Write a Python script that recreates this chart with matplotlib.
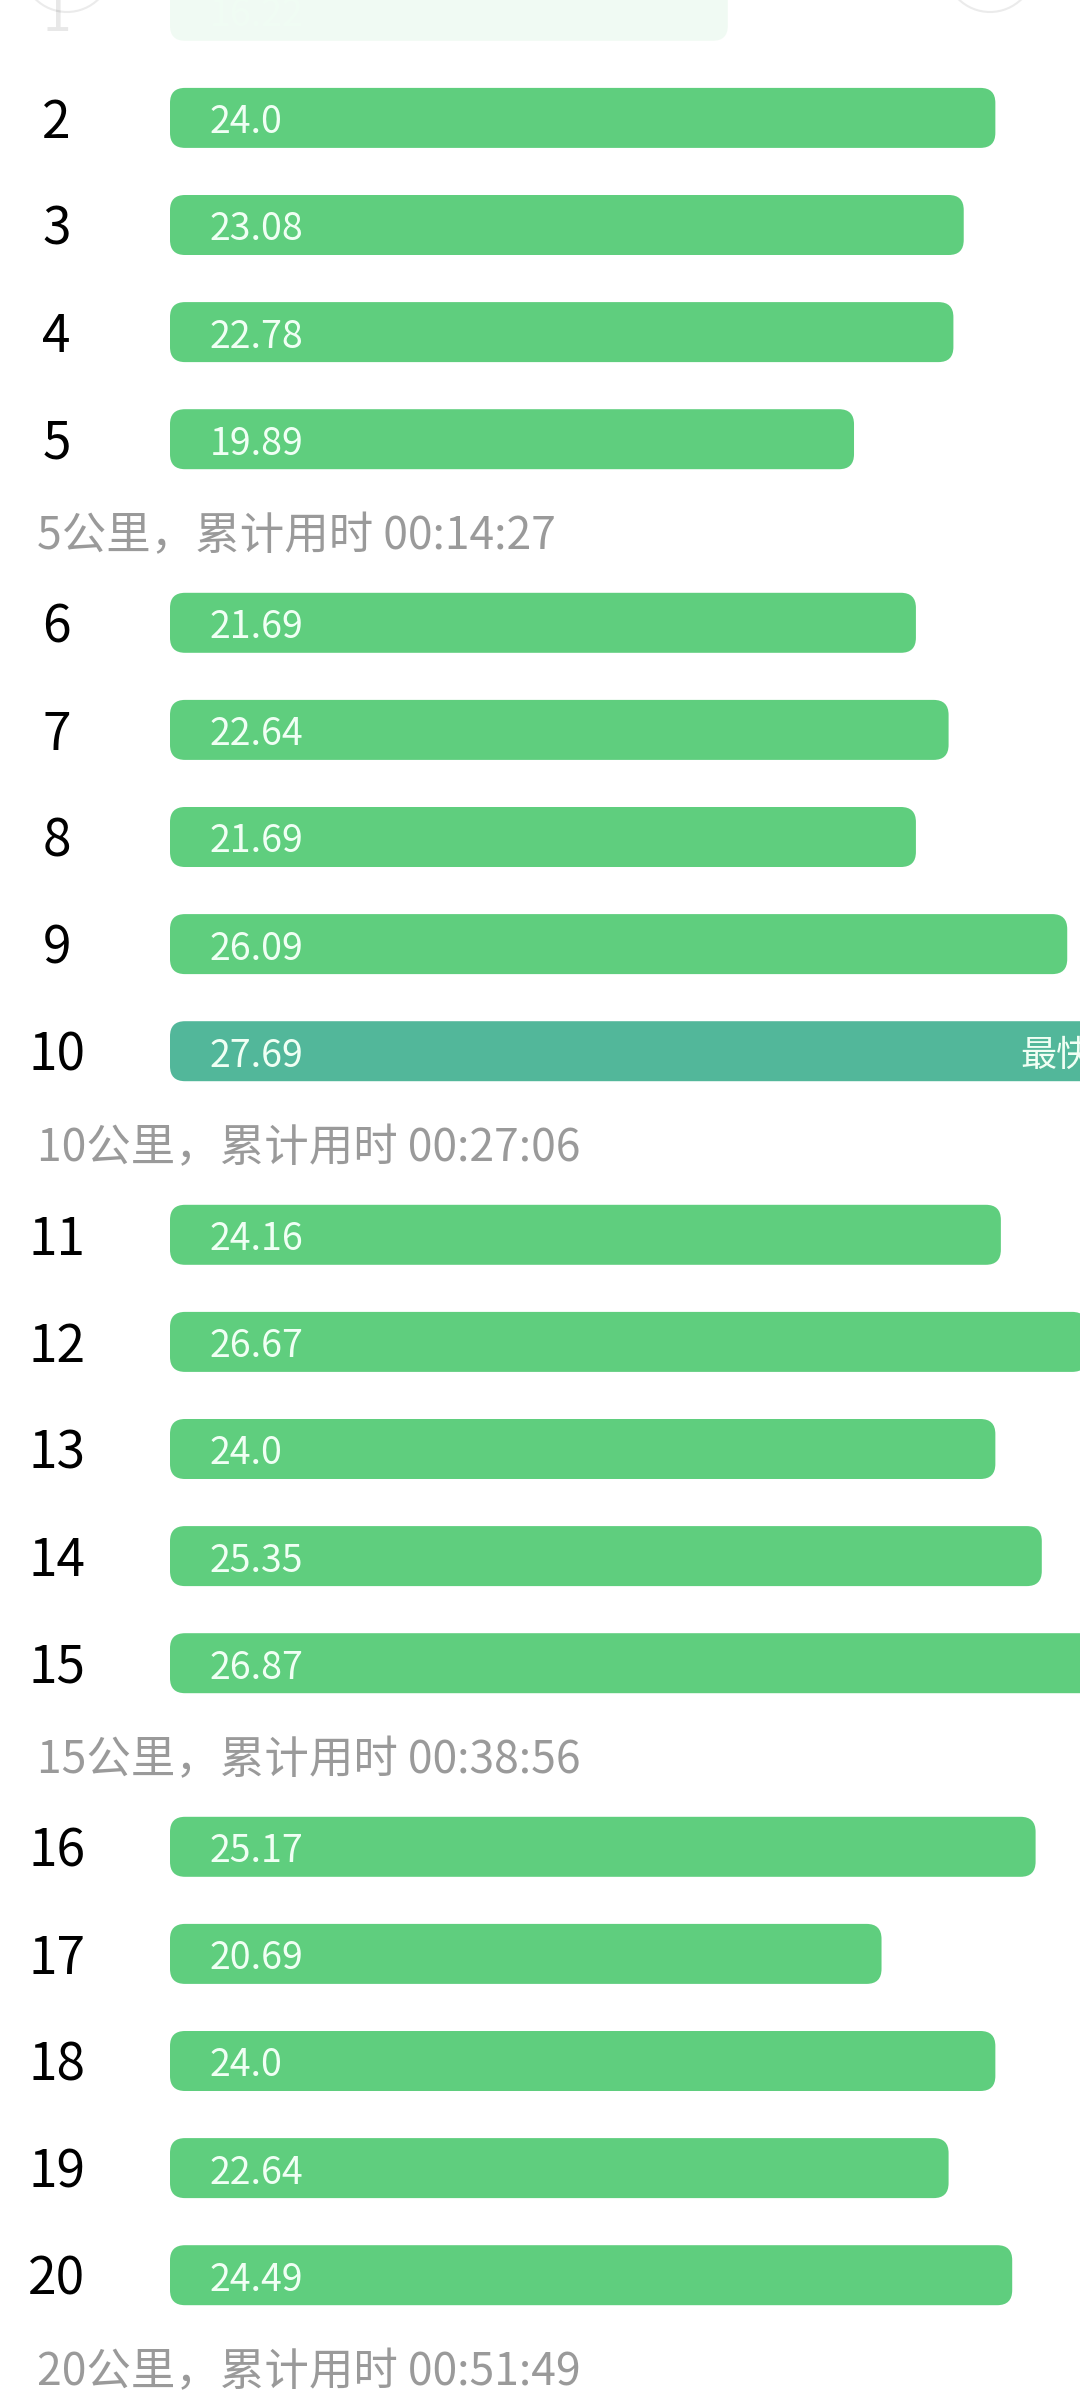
import matplotlib
matplotlib.use("Agg")
import matplotlib.pyplot as plt
from matplotlib.patches import FancyBboxPatch, Circle

plt.rcParams['font.family'] = ['Noto Sans CJK SC', 'DejaVu Sans']

# data
splits = list(range(1, 21))
speeds = [16.22, 24.0, 23.08, 22.78, 19.89, 21.69, 22.64, 21.69, 26.09, 27.69,
          24.16, 26.67, 24.0, 25.35, 26.87, 25.17, 20.69, 24.0, 22.64, 24.49]
fastest_split = 10
summary_km = [5, 10, 15, 20]
summary_times = ["00:14:27", "00:27:06", "00:38:56", "00:51:49"]

GREEN = "#5FCE7E"
TEAL = "#52B79A"
GRAY = "#9A9A9A"
VALUE_TEXT = "#F0FFF4"

W, H = 1080, 2400
PX_PER_UNIT = 34.39      # horizontal pixels per km/h
BAR_LEFT = 170
ROW_STEP = 107.1
GROUP_GAP = 76.5
BAR_H = 60
RADIUS = 15
NUDGE = -5               # pull text down so digits sit in the middle of the row


def row_y(i):
    return 117.9 + ROW_STEP * (i - 2) + GROUP_GAP * ((i - 1) // 5)


fig = plt.figure(figsize=(W / 100, H / 100), dpi=100)
ax = fig.add_axes([0, 0, 1, 1])
xmin = -BAR_LEFT / PX_PER_UNIT
ax.set_xlim(xmin, (W - BAR_LEFT) / PX_PER_UNIT)
ax.set_ylim(H, 0)
ax.axis("off")

ys = [row_y(i) for i in splits]
bars = ax.barh(ys, speeds, height=BAR_H, left=0)

rx = RADIUS / PX_PER_UNIT

for split, bar, y, v in zip(splits, bars, ys, speeds):
    bar.remove()
    color = TEAL if split == fastest_split else GREEN
    alpha = 0.09 if split == 1 else 1.0   # first row is faded under the header
    patch = FancyBboxPatch((bar.get_x(), bar.get_y()), bar.get_width(), bar.get_height(),
                           boxstyle=f"round,pad=0,rounding_size={rx}",
                           mutation_aspect=PX_PER_UNIT,
                           facecolor=color, edgecolor="none", alpha=alpha)
    ax.add_patch(patch)
    ax.annotate(str(v), xy=(0, y), xytext=(40, NUDGE), textcoords="offset pixels",
                va="center", ha="left", fontsize=27, fontweight="medium",
                color=VALUE_TEXT, alpha=0.6 if split == 1 else 1.0)
    ax.annotate(str(split), xy=(xmin, y), xytext=(56.6, NUDGE), textcoords="offset pixels",
                ha="center", va="center", fontsize=37, color="black", alpha=alpha)
    if split == fastest_split:
        ax.annotate("最快", xy=(xmin, y), xytext=(1020, NUDGE), textcoords="offset pixels",
                    ha="left", va="center", fontsize=26, color=VALUE_TEXT)

for km, t in zip(summary_km, summary_times):
    ax.annotate(f"{km}公里，累计用时 {t}", xy=(xmin, row_y(km) + 92), xytext=(37, NUDGE),
                textcoords="offset pixels", ha="left", va="center", fontsize=32, color=GRAY)

# faint header buttons peeking in at the top
deco = fig.add_axes([0, 0, 1, 1], zorder=-1)
deco.set_xlim(0, W)
deco.set_ylim(H, 0)
deco.axis("off")
for cx in [67, 990]:
    deco.add_patch(Circle((cx, -33), 45, fill=False, edgecolor="#EBEBEB", lw=1.5))

fig.savefig("out.png", dpi=100, facecolor="white")
